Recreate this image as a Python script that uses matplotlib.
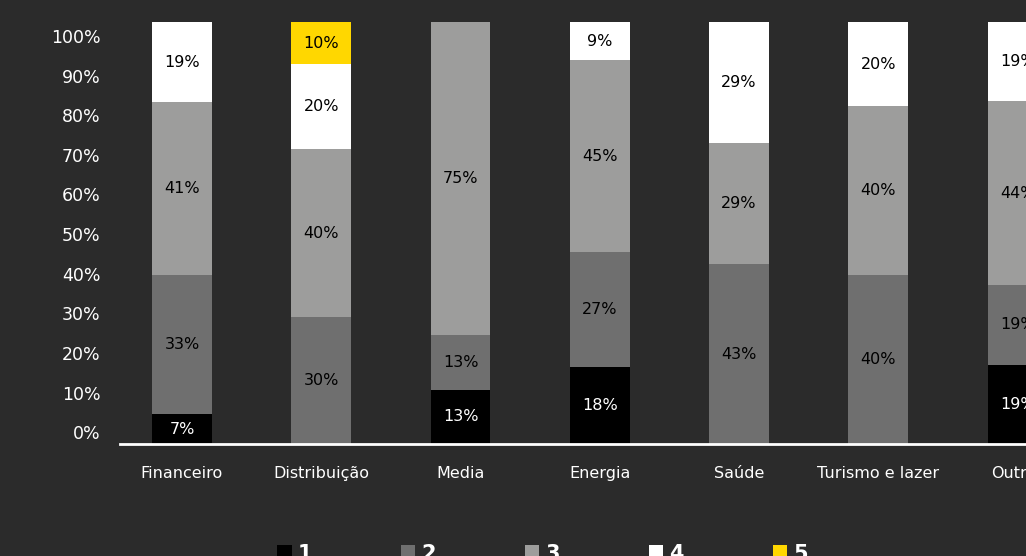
import numpy as np
import matplotlib
matplotlib.use("Agg")
import matplotlib.pyplot as plt
from matplotlib.patches import Patch

plt.rcParams['font.family'] = ['DejaVu Sans']

categories = ["Financeiro", "Distribuição", "Media", "Energia", "Saúde", "Turismo e lazer", "Outros"]
series_names = ["1", "2", "3", "4", "5"]
s1 = [7, 0, 13, 18, 0, 0, 19]
s2 = [33, 30, 13, 27, 43, 40, 19]
s3 = [41, 40, 75, 45, 29, 40, 44]
s4 = [19, 20, 0, 9, 29, 20, 19]
s5 = [0, 10, 0, 0, 0, 0, 0]
tick_labels = ["0%", "10%", "20%", "30%", "40%", "50%", "60%", "70%", "80%", "90%", "100%"]

colors = ["#000000", "#6f6f6f", "#9d9d9c", "#ffffff", "#ffd700"]
text_colors = ["white", "black", "black", "black", "black"]
bg = "#2b2b2b"

W, H = 1026, 556
fig = plt.figure(figsize=(W / 100, H / 100), dpi=100, facecolor=bg)
ax_left, ax_right = 120, 1090
ax_bottom, ax_top = 444, 22
ax = fig.add_axes([ax_left / W, (H - ax_bottom) / H, (ax_right - ax_left) / W, (ax_bottom - ax_top) / H])
ax.set_facecolor(bg)

series = np.array([s1, s2, s3, s4, s5], dtype=float)
totals = series.sum(axis=0)
shares = series / totals * 100  # 100% stacked

x = np.arange(len(categories))
width = 0.43
bottom = np.zeros(len(categories))
for i, name in enumerate(series_names):
    ax.bar(x, shares[i], width, bottom=bottom, color=colors[i], label=name, zorder=2)
    for j in range(len(categories)):
        if series[i, j] > 0:
            ax.text(x[j], bottom[j] + shares[i, j] / 2, f"{int(series[i, j])}%",
                    ha="center", va="center", fontsize=11.5, color=text_colors[i], zorder=3)
    bottom += shares[i]

ax.set_xlim(-0.445, 6.52)
ax.set_ylim(0, 100)

# percentage scale drawn slightly inset from the bar extent
ax.set_yticks(np.linspace(2.8, 96.7, 11))
ax.set_yticklabels(tick_labels)
ax.tick_params(axis="y", length=0, pad=14, labelsize=12.5, labelcolor="white")
ax.set_xticks(x)
ax.set_xticklabels(categories)
ax.tick_params(axis="x", length=0, pad=16, labelsize=11.5, labelcolor="white")

for side in ["top", "right", "left"]:
    ax.spines[side].set_visible(False)
ax.spines["bottom"].set_color("white")
ax.spines["bottom"].set_linewidth(2)
ax.spines["bottom"].set_zorder(4)

handles = [Patch(facecolor=c, edgecolor="none") for c in colors]
leg = fig.legend(handles, series_names, loc="upper left",
                 bbox_to_anchor=(277 / W, 1 - 544 / H), bbox_transform=fig.transFigure,
                 ncol=5, frameon=False, fontsize=15, handlelength=0.7, handleheight=0.7,
                 handletextpad=0.3, columnspacing=4.25, borderpad=0.0, borderaxespad=0.0)
for t in leg.get_texts():
    t.set_fontweight("bold")
    t.set_color("white")

fig.savefig("out.png", dpi=100, facecolor=bg)
